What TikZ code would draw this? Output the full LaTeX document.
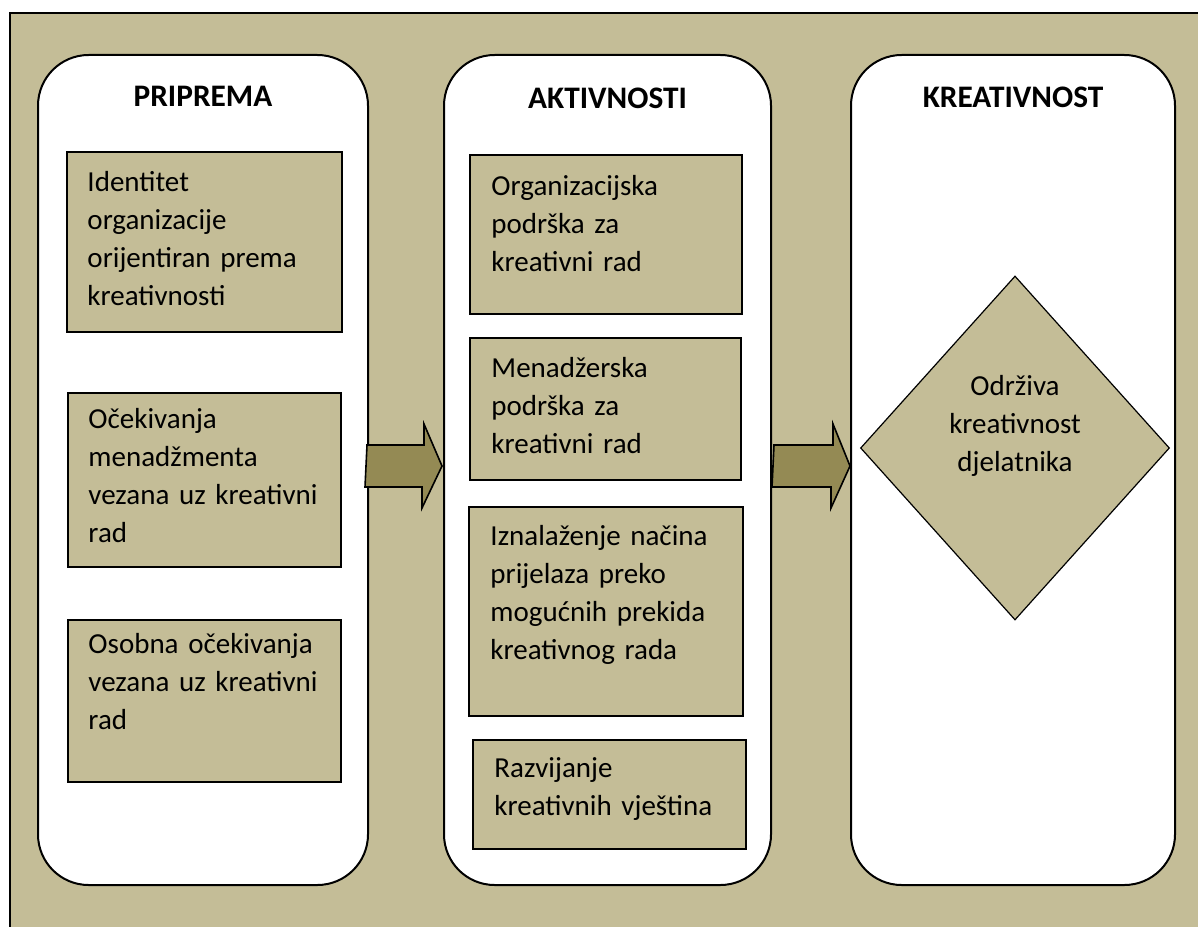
\documentclass[tikz,border=0pt]{standalone}
\usepackage{fontspec}
\setmainfont{Carlito}
\usetikzlibrary{fit,shapes.geometric}
\definecolor{tanbg}{HTML}{C4BD97}
\definecolor{olivearrow}{HTML}{948A54}

\begin{document}
\begin{tikzpicture}[
  x=0.75pt, y=-0.75pt,
  font=\fontsize{21.75}{28.5}\selectfont,
  column/.style={draw, fill=white, line width=1.5pt, rounded corners=38pt, inner sep=0pt},
  box/.style={draw, fill=tanbg, line width=1.2pt, inner sep=0pt},
  txt/.style={anchor=base west, align=left, text width=200pt, inner sep=0pt},
  title/.style={anchor=base, font=\fontsize{23.5}{28.5}\selectfont\bfseries},
  goal/.style={diamond, draw, fill=tanbg, line width=0.9pt, inner sep=0pt, minimum width=231.75pt, minimum height=258pt},
  bigarrow/.style={draw, fill=olivearrow, line width=1.2pt, line join=miter}
]

\useasboundingbox (0,0) rectangle (1198,927);
\draw[fill=tanbg, line width=1.5pt] (10,13) rectangle (1215,945);

\node[column, fit={(38,55) (368,885)}] (prep) {};
\node[column, fit={(444,55) (771,885)}] (act) {};
\node[column, fit={(851,55) (1175,885)}] (crea) {};

\node[title] (prept) at ([shift={(0,53)}]prep.north) {PRIPREMA};
\node[title] (actt) at ([shift={(0,55)}]act.north) {AKTIVNOSTI};
\node[title] (creat) at ([shift={(0,54)}]crea.north) {KREATIVNOST};

\node[box, fit={(67,152) (342,332)}] (p1) {};
\node[txt] (p1t) at ([shift={(21,40)}]p1.north west) {Identitet\\organizacije\\orijentiran prema\\kreativnosti};
\node[box, fit={(68,393) (341,567)}] (p2) {};
\node[txt] (p2t) at ([shift={(21,36)}]p2.north west) {Očekivanja\\menadžmenta\\vezana uz kreativni\\rad};
\node[box, fit={(68,620) (341,782)}] (p3) {};
\node[txt] (p3t) at ([shift={(21,34)}]p3.north west) {Osobna očekivanja\\vezana uz kreativni\\rad};

\node[box, fit={(470,155) (742,314)}] (a1) {};
\node[txt] (a1t) at ([shift={(22,41)}]a1.north west) {Organizacijska\\podrška za\\kreativni rad};
\node[box, fit={(470,338) (741,480)}] (a2) {};
\node[txt] (a2t) at ([shift={(22,40)}]a2.north west) {Menadžerska\\podrška za\\kreativni rad};
\node[box, fit={(469,507) (743,716)}] (a3) {};
\node[txt] (a3t) at ([shift={(22,39)}]a3.north west) {Iznalaženje načina\\prijelaza preko\\mogućnih prekida\\kreativnog rada};
\node[box, fit={(473,740) (746,849)}] (a4) {};
\node[txt] (a4t) at ([shift={(22,38)}]a4.north west) {Razvijanje\\kreativnih vještina};

\node[goal] (goal) at (1015,448) {};
\node[anchor=base, align=center, text width=200pt, inner sep=0pt] (goalt) at ([shift={(0,-53)}]goal.center) {Održiva\\kreativnost\\djelatnika};

\draw[bigarrow] ([shift={(-2,-25)}]prep.east) -- ++(57,0) -- ++(0,-21) -- ([shift={(-1,-4)}]act.west) -- ++(-20,42) -- ++(0,-21) -- ++(-57,0) -- cycle;
\draw[bigarrow] ([shift={(2,-25)}]act.east) -- ++(59,0) -- ++(0,-21) -- ([shift={(0,-4)}]crea.west) -- ++(-19,42) -- ++(0,-21) -- ++(-59,0) -- cycle;

\end{tikzpicture}
\end{document}
